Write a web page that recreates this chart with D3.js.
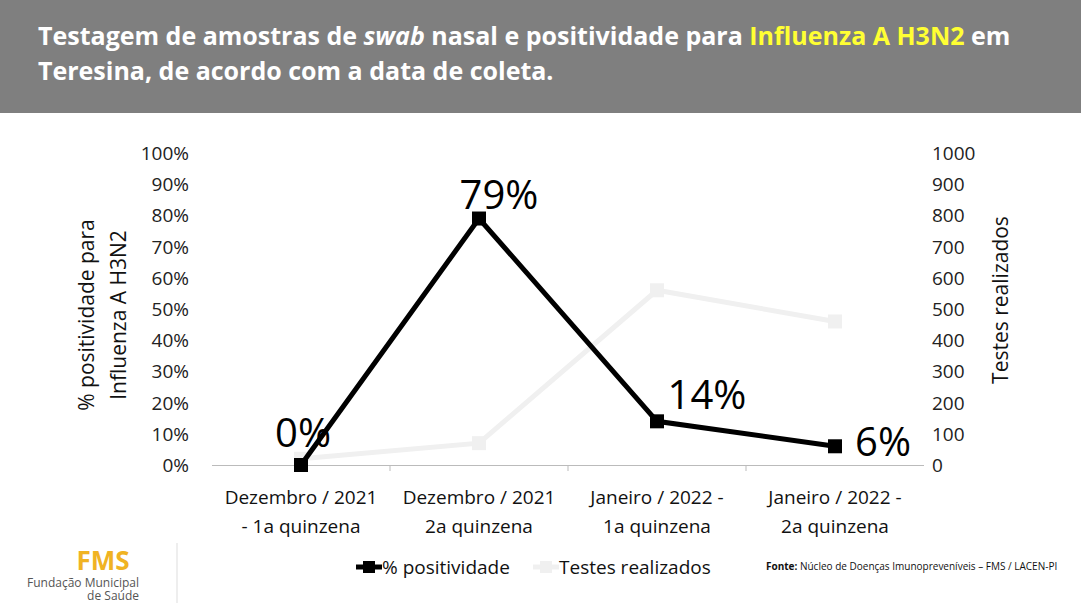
<!DOCTYPE html><html><head><meta charset="utf-8"><script src="https://cdn.jsdelivr.net/npm/d3@7"></script>
<style>body{margin:0;background:#fff}svg{display:block}</style></head><body><svg id="c" width="1081" height="603"></svg>
<script>
const categories=[["Dezembro / 2021","- 1a quinzena"],["Dezembro / 2021","2a quinzena"],["Janeiro / 2022 -","1a quinzena"],["Janeiro / 2022 -","2a quinzena"]];
const positividade=[0,79,14,6];
const testes=[20,70,560,460];
const leftTicks=d3.range(0,101,10);
const rightTicks=d3.range(0,1001,100);
const svg=d3.select("#c");
const F="'Open Sans',Calibri,sans-serif";
svg.append("rect").attr("width",1081).attr("height",113).attr("fill","#7f7f7f");
const t=svg.append("text").attr("font-family",F).attr("font-weight","bold").attr("font-size",25).attr("fill","#fff");
const l1=t.append("tspan").attr("x",38).attr("y",45);
l1.append("tspan").text("Testagem de amostras de ");
l1.append("tspan").attr("font-style","italic").text("swab");
l1.append("tspan").text(" nasal e positividade para ");
l1.append("tspan").attr("fill","#ffff33").text("Influenza A H3N2");
l1.append("tspan").text(" em");
t.append("tspan").attr("x",38).attr("y",80).text("Teresina, de acordo com a data de coleta.");
const x=d3.scaleBand().domain(d3.range(4)).range([212,924]);
const yL=d3.scaleLinear().domain([0,100]).range([465,153]);
const yR=d3.scaleLinear().domain([0,1000]).range([465,153]);
const g=svg.append("g").attr("font-family",F);
leftTicks.forEach(v=>g.append("text").attr("x",189).attr("y",yL(v)+7).attr("text-anchor","end").attr("font-size",19).attr("fill","#222").text(v+"%"));
rightTicks.forEach(v=>g.append("text").attr("x",932).attr("y",yR(v)+7).attr("font-size",19).attr("fill","#222").text(v));
g.append("line").attr("x1",212).attr("x2",924).attr("y1",465.5).attr("y2",465.5).attr("stroke","#bbb");
[1,2,3].forEach(i=>g.append("line").attr("x1",x(i)).attr("x2",x(i)).attr("y1",465).attr("y2",471).attr("stroke","#bbb"));
categories.forEach((c,i)=>{c.forEach((s,j)=>g.append("text").attr("x",x(i)+x.bandwidth()/2).attr("y",504+j*29).attr("text-anchor","middle").attr("font-size",19).attr("fill","#111").text(s));});
const cx=i=>x(i)+x.bandwidth()/2;
g.append("path").attr("d",d3.line().x((d,i)=>cx(i)).y(d=>yR(d))(testes)).attr("fill","none").attr("stroke","#f0f0f0").attr("stroke-width",5);
testes.forEach((d,i)=>g.append("rect").attr("x",cx(i)-7).attr("y",yR(d)-7).attr("width",14).attr("height",14).attr("fill","#f0f0f0"));
g.append("path").attr("d",d3.line().x((d,i)=>cx(i)).y(d=>yL(d))(positividade)).attr("fill","none").attr("stroke","#000").attr("stroke-width",5);
positividade.forEach((d,i)=>g.append("rect").attr("x",cx(i)-7).attr("y",yL(d)-7).attr("width",14).attr("height",14).attr("fill","#000"));
const lblOff=[[2,-18],[20,-10],[50,-12],[48,10]];
positividade.forEach((d,i)=>g.append("text").attr("x",cx(i)+lblOff[i][0]).attr("y",yL(d)+lblOff[i][1]).attr("text-anchor","middle").attr("font-size",40).attr("fill","#000").text(d+"%"));
g.append("text").attr("transform","translate(94,315) rotate(-90)").attr("text-anchor","middle").attr("font-size",21).attr("fill","#111").text("% positividade para");
g.append("text").attr("transform","translate(126,315) rotate(-90)").attr("text-anchor","middle").attr("font-size",21).attr("fill","#111").text("Influenza A H3N2");
g.append("text").attr("transform","translate(1008,300) rotate(-90)").attr("text-anchor","middle").attr("font-size",21).attr("fill","#111").text("Testes realizados");
g.append("line").attr("x1",356).attr("x2",382).attr("y1",567).attr("y2",567).attr("stroke","#000").attr("stroke-width",5);
g.append("rect").attr("x",363).attr("y",561).attr("width",12).attr("height",12).attr("fill","#000");
g.append("text").attr("x",382).attr("y",574).attr("font-size",19).attr("fill","#111").text("% positividade");
g.append("line").attr("x1",533).attr("x2",559).attr("y1",567).attr("y2",567).attr("stroke","#f0f0f0").attr("stroke-width",5);
g.append("rect").attr("x",540).attr("y",561).attr("width",12).attr("height",12).attr("fill","#f0f0f0");
g.append("text").attr("x",559).attr("y",574).attr("font-size",19).attr("fill","#111").text("Testes realizados");
const s=g.append("text").attr("x",766).attr("y",570).attr("font-size",10).attr("fill","#111");
s.append("tspan").attr("font-weight","bold").text("Fonte:");
s.append("tspan").text(" Núcleo de Doenças Imunopreveníveis – FMS / LACEN-PI");
g.append("text").attr("x",103).attr("y",570).attr("text-anchor","middle").attr("font-size",26).attr("font-weight","bold").attr("fill","#f0b323").text("FMS");
g.append("text").attr("x",139).attr("y",587).attr("text-anchor","end").attr("font-size",12).attr("fill","#555").text("Fundação Municipal");
g.append("text").attr("x",139).attr("y",600).attr("text-anchor","end").attr("font-size",12).attr("fill","#555").text("de Saúde");
g.append("line").attr("x1",177).attr("x2",177).attr("y1",543).attr("y2",603).attr("stroke","#ddd");
</script></body></html>
